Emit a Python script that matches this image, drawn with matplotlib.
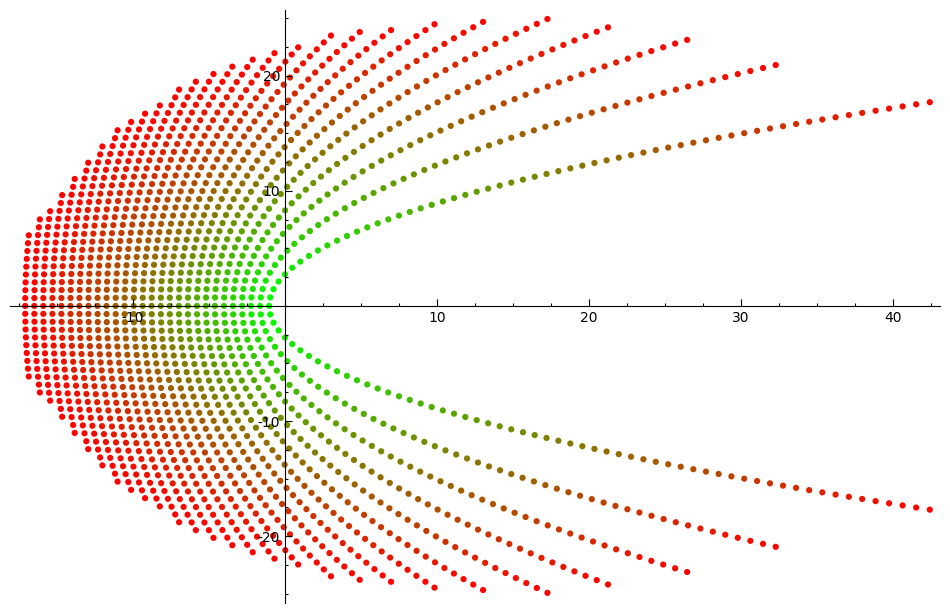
import numpy as np
import matplotlib
matplotlib.use("Agg")
import matplotlib.pyplot as plt
from matplotlib.path import Path

# right-opening parabolas x = v + y^2 / a
vertex_x = [-1.05, -1.64, -2.24, -2.83, -3.43, -4.02, -4.62, -5.21, -5.80,
            -6.40, -6.99, -7.59, -8.18, -8.78, -9.37, -9.96, -10.56, -11.15,
            -11.75, -12.34, -12.94, -13.53, -14.12, -14.72, -15.31, -15.91,
            -16.50, -17.10]
width_a = [7.2, 12.9, 18.6, 24.3, 30.0, 35.7, 41.4, 47.1, 52.8, 58.5, 64.2,
           69.9, 75.6, 81.3, 87.0, 92.7, 98.4, 104.1, 109.8, 115.5, 121.2,
           126.9, 132.6, 138.3, 144.0, 149.7, 155.4, 161.1]

# outline (upper half) where the dotted curves stop
edge_x = [-17.6, -17.3, -16.5, -15.3, -14.7, -14.0, -13.1, -12.2, -11.2,
          -10.1, -8.7, -7.2, -5.7, -3.9, -2.1, -0.07, 2.2, 4.6, 7.3, 10.3,
          13.6, 17.3, 21.6, 26.6, 32.0, 41.9]
edge_y = [0.0, 5.5, 7.0, 8.4, 9.7, 11.0, 12.4, 13.7, 14.9, 16.2, 17.4, 18.5,
          19.6, 20.6, 21.6, 22.4, 23.2, 23.8, 24.3, 24.7, 24.8, 24.8, 24.2,
          23.1, 21.2, 17.8]


def dot_step(x):
    # spacing of the dots grows slowly from left to right
    return 0.75 + 0.004 * x


def curve_points(v, a, region):
    yy = np.linspace(0, 30, 12000)
    xx = v + yy**2 / a
    arc = np.concatenate([[0], np.cumsum(np.hypot(np.diff(xx), np.diff(yy)))])
    inside = region.contains_points(np.column_stack([xx, yy]))
    s_end = arc[np.argmin(inside)] if not inside.all() else arc[-1]
    pts = [0.0]
    while True:
        x_now = np.interp(pts[-1], arc, xx)
        nxt = pts[-1] + dot_step(x_now)
        if nxt > s_end + 0.35 * dot_step(x_now):
            break
        pts.append(nxt)
    s = np.array(pts)
    ys = np.interp(s, arc, yy)
    return v + ys**2 / a, ys


poly = list(zip(edge_x, edge_y)) + [(44.0, 17.8), (44.0, -0.5), (-17.6, -0.5)]
region = Path(poly)

px, py, pc = [], [], []
n_curves = len(vertex_x)
for i, (v, a) in enumerate(zip(vertex_x, width_a)):
    xs, ys = curve_points(v, a, region)
    c0 = i / (n_curves - 1)
    frac = np.arange(len(xs)) / max(len(xs) - 1, 1)
    t = np.clip(c0 + (1 - c0) * frac, 0, 1)
    px.extend(xs)
    py.extend(ys)
    pc.extend(t)
    px.extend(xs[1:])
    py.extend(-ys[1:])
    pc.extend(t[1:])

pc = np.array(pc)
colors = np.column_stack([pc, 1 - pc, np.zeros_like(pc)])

plt.rcParams["axes.unicode_minus"] = False
fig = plt.figure(figsize=(9.5, 6.13), dpi=100)
ax = fig.add_axes([10 / 950, 10 / 613, 930 / 950, 593 / 613])
ax.scatter(px, py, s=20, c=colors, linewidths=0, zorder=1)

ax.set_xlim(-18.1, 43.1)
ax.set_ylim(-25.8, 25.7)
for side in ("top", "right"):
    ax.spines[side].set_visible(False)
ax.spines["left"].set_position(("data", 0))
ax.spines["bottom"].set_position(("data", 0))
ax.set_xticks([-10, 10, 20, 30, 40])
ax.set_yticks([-20, -10, 10, 20])
ax.set_xticks(np.arange(-17.5, 43, 2.5), minor=True)
ax.set_yticks(np.arange(-25, 26, 2.5), minor=True)
ax.tick_params(which="both", direction="in", labelsize=10, width=0.8)
ax.tick_params(which="major", length=5)
ax.tick_params(which="minor", length=2.5)
for lab in ax.get_xticklabels() + ax.get_yticklabels():
    lab.set_zorder(5)

fig.savefig("out.png", dpi=100)
